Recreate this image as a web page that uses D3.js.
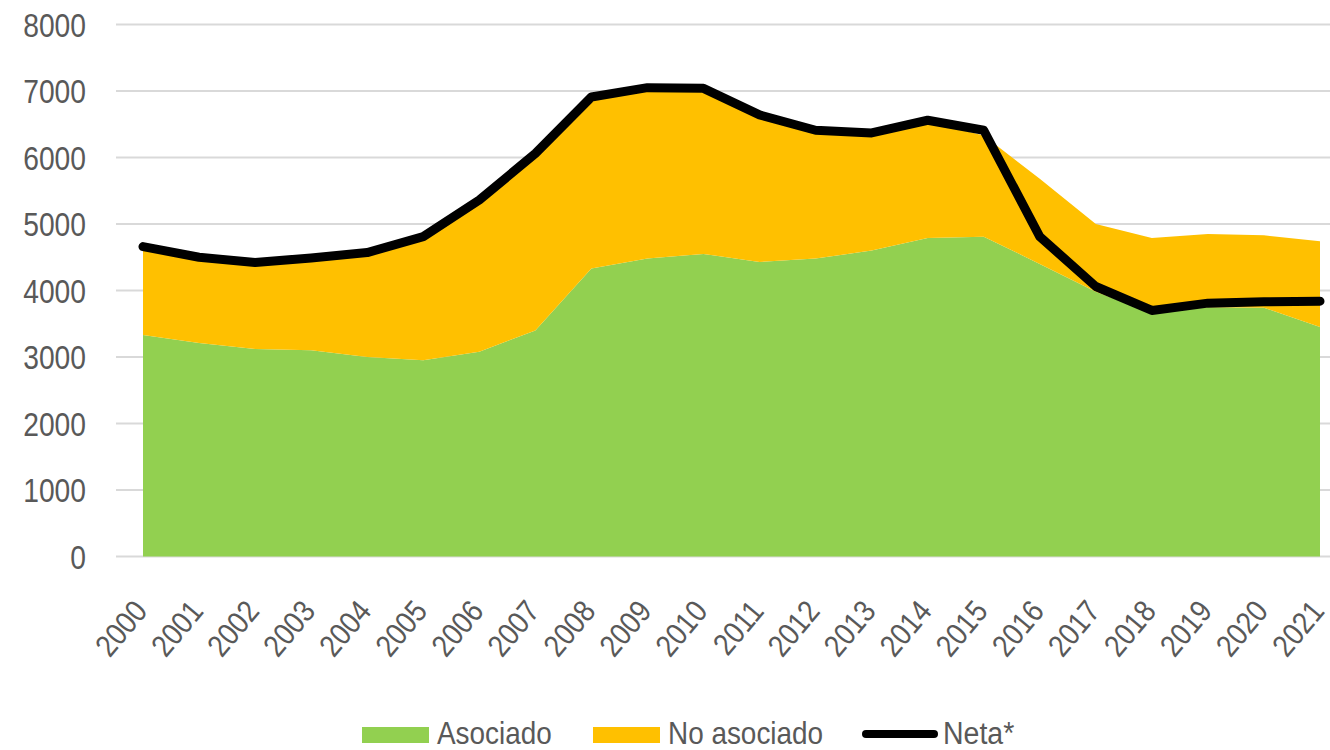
<!DOCTYPE html>
<html>
<head>
<meta charset="utf-8">
<style>
body { margin: 0; background: #fff; }
text { font-family: "Liberation Sans", Arial, sans-serif; fill: #595959; }
</style>
</head>
<body>
<svg id="chart"></svg>
<script src="https://cdnjs.cloudflare.com/ajax/libs/d3/7.8.5/d3.min.js"></script>
<script>
var years = ['2000','2001','2002','2003','2004','2005','2006','2007','2008','2009','2010',
  '2011','2012','2013','2014','2015','2016','2017','2018','2019','2020','2021'];
var asociado = [3330,3210,3120,3100,3000,2950,3080,3400,4330,4480,4550,
  4430,4480,4600,4790,4810,4400,3980,3660,3750,3740,3450];
var noAsociado = [1290,1270,1280,1370,1550,1840,2260,2650,2560,2550,2470,
  2190,1910,1750,1750,1520,1280,1020,1130,1100,1090,1290];
var neta = [4660,4500,4420,4490,4570,4810,5360,6060,6910,7050,7040,
  6640,6410,6370,6560,6410,4810,4060,3700,3810,3830,3840];
var yTicks = [0,1000,2000,3000,4000,5000,6000,7000,8000];

var width = 1330, height = 750;
var svg = d3.select('#chart').attr('width', width).attr('height', height);

var x = d3.scalePoint().domain(years).range([143, 1320]);
var y = d3.scaleLinear().domain([0, 8000]).range([556.5, 24.5]);

// gridlines
svg.append('g').selectAll('line')
  .data(yTicks)
  .enter().append('line')
  .attr('x1', 116).attr('x2', 1330)
  .attr('y1', function(d) { return y(d); })
  .attr('y2', function(d) { return y(d); })
  .attr('stroke', '#d9d9d9')
  .attr('stroke-width', 2);

// y labels (condensed like the original)
svg.append('g').selectAll('text')
  .data(yTicks)
  .enter().append('text')
  .attr('transform', function(d) { return 'translate(86,' + y(d) + ') scale(0.83,1)'; })
  .attr('dy', '0.36em')
  .attr('text-anchor', 'end')
  .style('font-size', '34px')
  .text(function(d) { return d; });

var rows = years.map(function(yr, i) {
  return { year: yr, asociado: asociado[i], noAsociado: noAsociado[i] };
});
var stack = d3.stack().keys(['asociado', 'noAsociado']);
var series = stack(rows);
var colors = { asociado: '#92d050', noAsociado: '#ffc000' };

var area = d3.area()
  .x(function(d) { return x(d.data.year); })
  .y0(function(d) { return y(d[0]); })
  .y1(function(d) { return y(d[1]); });

svg.append('g').selectAll('path')
  .data(series)
  .enter().append('path')
  .attr('fill', function(s) { return colors[s.key]; })
  .attr('d', area);

var line = d3.line()
  .x(function(d, i) { return x(years[i]); })
  .y(function(d) { return y(d); });

svg.append('path')
  .datum(neta)
  .attr('fill', 'none')
  .attr('stroke', '#000')
  .attr('stroke-width', 9)
  .attr('stroke-linejoin', 'round')
  .attr('stroke-linecap', 'round')
  .attr('d', line);

// x labels
svg.append('g').selectAll('text')
  .data(years)
  .enter().append('text')
  .attr('text-anchor', 'end')
  .style('font-size', '31px')
  .attr('transform', function(d) {
    return 'translate(' + (x(d) - 11) + ',598) rotate(-50) scale(0.88,1)';
  })
  .attr('dy', '0.7em')
  .text(function(d) { return d; });

// legend
var legend = svg.append('g');
legend.append('rect').attr('x', 362).attr('y', 727).attr('width', 67).attr('height', 16).attr('fill', '#92d050');
legend.append('text').attr('transform', 'translate(437,744) scale(0.9,1)').style('font-size', '31px').text('Asociado');
legend.append('rect').attr('x', 593).attr('y', 727).attr('width', 67).attr('height', 16).attr('fill', '#ffc000');
legend.append('text').attr('transform', 'translate(668,744) scale(0.9,1)').style('font-size', '31px').text('No asociado');
legend.append('line').attr('x1', 866).attr('x2', 934).attr('y1', 734).attr('y2', 734)
  .attr('stroke', '#000').attr('stroke-width', 8).attr('stroke-linecap', 'round');
legend.append('text').attr('transform', 'translate(943,744) scale(0.92,1)').style('font-size', '31px').text('Neta*');
</script>
</body>
</html>
